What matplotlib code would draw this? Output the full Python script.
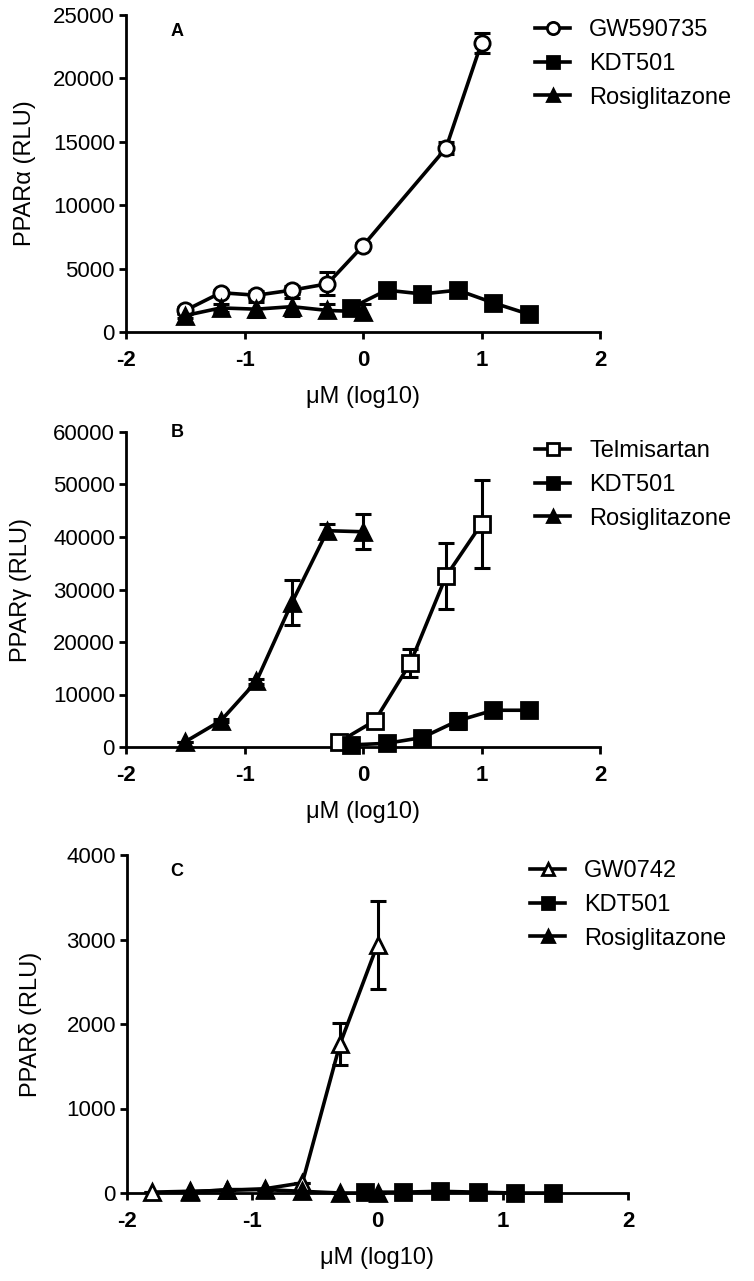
import matplotlib.pyplot as plt

plt.rcParams['font.family'] = ['Liberation Sans', 'DejaVu Sans']

W, H = 754, 1281

# ---- panel A: PPARalpha ----
a_gw_x = [-1.5, -1.2, -0.9, -0.6, -0.3, 0.0, 0.7, 1.0]
a_gw_y = [1700, 3100, 2900, 3300, 3800, 6800, 14500, 22800]
a_gw_e = [300, 200, 300, 300, 900, 200, 500, 800]
a_kdt_x = [-0.1, 0.2, 0.5, 0.8, 1.1, 1.4]
a_kdt_y = [1900, 3300, 3000, 3300, 2300, 1400]
a_kdt_e = [200, 200, 200, 200, 200, 200]
a_ros_x = [-1.5, -1.2, -0.9, -0.6, -0.3, 0.0]
a_ros_y = [1300, 1900, 1800, 2000, 1700, 1600]
a_ros_e = [200, 300, 600, 700, 500, 600]

# ---- panel B: PPARgamma ----
b_tel_x = [-0.2, 0.1, 0.4, 0.7, 1.0]
b_tel_y = [1000, 5000, 16000, 32500, 42500]
b_tel_e = [0, 300, 2700, 6300, 8400]
b_kdt_x = [-0.1, 0.2, 0.5, 0.8, 1.1, 1.4]
b_kdt_y = [400, 700, 1800, 5000, 7000, 7000]
b_kdt_e = [0, 0, 300, 1500, 500, 300]
b_ros_x = [-1.5, -1.2, -0.9, -0.6, -0.3, 0.0]
b_ros_y = [1000, 5000, 12500, 27500, 41200, 41000]
b_ros_e = [0, 300, 500, 4300, 1300, 3300]

# ---- panel C: PPARdelta ----
c_gw_x = [-1.8, -1.5, -1.2, -0.9, -0.6, -0.3, 0.0]
c_gw_y = [10, 20, 30, 50, 120, 1760, 2940]
c_gw_e = [0, 0, 0, 0, 0, 250, 520]
c_kdt_x = [-0.1, 0.2, 0.5, 0.8, 1.1, 1.4]
c_kdt_y = [10, 10, 20, 10, 0, 0]
c_kdt_e = [0, 0, 0, 0, 0, 0]
c_ros_x = [-1.5, -1.2, -0.9, -0.6, -0.3, 0.0]
c_ros_y = [10, 40, 40, 20, 0, 0]
c_ros_e = [0, 0, 0, 0, 0, 0]

x_ticks = [-2, -1, 0, 1, 2]
x_labels = ['-2', '-1', '0', '1', '2']


def rect(left, right, top, bottom):
    return [left / W, 1 - bottom / H, (right - left) / W, (bottom - top) / H]


def series(ax, x, y, e, marker, filled, label):
    ax.errorbar(x, y, yerr=e, fmt='none', ecolor='k', elinewidth=2.2,
                capsize=5.5, capthick=2.2, clip_on=False, zorder=2)
    ax.plot(x, y, '-', color='k', lw=2.6, marker=marker, ms=11,
            mfc='k' if filled else 'white', mec='k', mew=2,
            clip_on=False, label=label, zorder=3)


def style(ax, ymax, ystep, ylabel, letter, leg_xy, lab_x):
    ax.set_xlim(-2, 2)
    ax.set_ylim(0, ymax)
    ax.set_yticks(range(0, ymax + 1, ystep))
    ax.set_xticks(x_ticks, labels=x_labels, fontweight='bold')
    ax.spines['top'].set_visible(False)
    ax.spines['right'].set_visible(False)
    ax.spines['left'].set_linewidth(2)
    ax.spines['bottom'].set_linewidth(2)
    ax.tick_params(direction='out', length=5, width=2, labelsize=16)
    ax.tick_params(axis='x', pad=8)
    ax.tick_params(axis='y', pad=3)
    ax.set_xlabel('\u03bcM (log10)', fontsize=17, labelpad=11)
    ax.set_ylabel(ylabel, fontsize=17)
    ax.yaxis.set_label_coords(-lab_x, 0.5)
    fig = ax.figure
    fig.text(177 / W, 1 - letter[1] / H, letter[0], fontsize=13,
             fontweight='bold', ha='center', va='center')
    ax.legend(loc='upper left', bbox_to_anchor=(leg_xy[0] / W, 1 - leg_xy[1] / H),
              bbox_transform=fig.transFigure, frameon=False, fontsize=17,
              handlelength=1.5, handletextpad=0.8, labelspacing=0.5,
              markerscale=0.8, borderpad=0, borderaxespad=0)


fig = plt.figure(figsize=(W / 100, H / 100), dpi=100)

ax = fig.add_axes(rect(126, 600, 15, 332))
series(ax, a_gw_x, a_gw_y, a_gw_e, 'o', False, 'GW590735')
series(ax, a_kdt_x, a_kdt_y, a_kdt_e, 's', True, 'KDT501')
series(ax, a_ros_x, a_ros_y, a_ros_e, '^', True, 'Rosiglitazone')
style(ax, 25000, 5000, 'PPAR\u03b1 (RLU)', ('A', 32), (535, 19), 0.19)

ax = fig.add_axes(rect(126, 600, 432, 747))
series(ax, b_tel_x, b_tel_y, b_tel_e, 's', False, 'Telmisartan')
series(ax, b_kdt_x, b_kdt_y, b_kdt_e, 's', True, 'KDT501')
series(ax, b_ros_x, b_ros_y, b_ros_e, '^', True, 'Rosiglitazone')
style(ax, 60000, 10000, 'PPAR\u03b3 (RLU)', ('B', 433), (535, 440), 0.198)

ax = fig.add_axes(rect(127, 628, 855, 1193))
series(ax, c_gw_x, c_gw_y, c_gw_e, '^', False, 'GW0742')
series(ax, c_kdt_x, c_kdt_y, c_kdt_e, 's', True, 'KDT501')
series(ax, c_ros_x, c_ros_y, c_ros_e, '^', True, 'Rosiglitazone')
style(ax, 4000, 1000, 'PPAR\u03b4 (RLU)', ('C', 872), (530, 860), 0.17)

fig.savefig('out.png', dpi=100)
